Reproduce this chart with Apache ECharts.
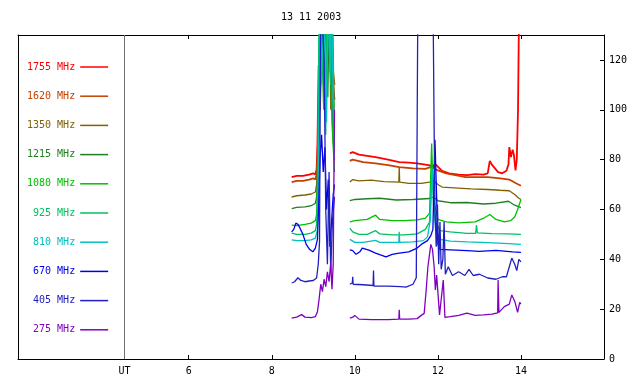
<!DOCTYPE html>
<html>
<head>
<meta charset="utf-8">
<script src="https://cdn.jsdelivr.net/npm/echarts@6/dist/echarts.min.js"></script>
<style>
  html, body { margin: 0; padding: 0; background: #fff; }
  #main { width: 640px; height: 384px; }
</style>
</head>
<body>
<div id="main"></div>
<script>
// time in UT hours, flux values; '-' marks the data gap
var f1755 = [[8.48,73],[8.6,73.5],[8.75,73.5],[8.9,74],[9.0,74.5],[9.05,74],[9.08,76],[9.1,86],[9.13,118],[9.16,100],[9.2,125],[9.24,150],[9.28,140],[9.32,150],[9.36,150],[9.4,150],[9.44,145],[9.47,112],[9.51,104],
  [9.7,'-'],
  [9.88,82.5],[9.95,83],[10.1,82],[10.3,81.5],[10.5,81],[10.8,80],[11.07,79],[11.3,78.8],[11.5,78.5],[11.7,78],[11.87,77.5],[11.95,78],[12.1,75.5],[12.27,74.5],[12.5,74],[12.7,73.8],[12.9,74.2],[13.1,74],[13.2,74.5],[13.25,79.5],[13.3,78],[13.35,77],[13.45,75],[13.55,74.5],[13.65,75.5],[13.7,78],[13.72,85],[13.76,81],[13.8,84],[13.83,82],[13.87,75.7],[13.9,80],[13.93,100],[13.96,150]];
var f1620 = [[8.48,71],[8.6,71.5],[8.75,71.5],[8.9,72],[9.0,72.5],[9.05,72],[9.08,74],[9.1,80],[9.13,95],[9.17,115],[9.2,140],[9.25,150],[9.3,135],[9.34,150],[9.38,120],[9.42,150],[9.46,118],[9.51,110],
  [9.7,'-'],
  [9.88,79.5],[9.95,80],[10.2,79],[10.5,78.5],[10.8,77.8],[11.07,77],[11.4,76.5],[11.7,76.3],[11.87,77.3],[11.95,76],[12.2,74.5],[12.67,73],[13.2,73],[13.5,72.5],[13.72,72],[13.88,70.5],[14.0,69.5]];
var f1350 = [[8.48,65],[8.6,65.5],[8.8,65.8],[8.95,66.2],[9.05,67],[9.08,70],[9.1,78],[9.14,90],[9.18,130],[9.22,150],[9.26,110],[9.3,150],[9.34,140],[9.38,150],[9.42,100],[9.46,130],[9.51,95],
  [9.7,'-'],
  [9.88,71],[9.95,72],[10.1,71.5],[10.4,71.8],[10.7,71.2],[11.06,71],[11.07,77],[11.08,71],[11.3,70.5],[11.6,70.5],[11.8,71],[11.9,71.5],[12.0,70],[12.1,69],[12.4,68.7],[12.8,68.3],[13.2,68],[13.5,67.7],[13.72,67.5],[13.85,66],[13.95,64.5],[14.0,64]];
var f1215 = [[8.48,60.3],[8.6,60.8],[8.8,61],[8.95,61.5],[9.05,62.5],[9.08,65],[9.11,75],[9.15,100],[9.19,150],[9.23,120],[9.27,150],[9.31,150],[9.35,105],[9.39,150],[9.43,130],[9.47,90],[9.51,80],
  [9.7,'-'],
  [9.88,63.5],[10.0,64],[10.3,64.3],[10.6,64.5],[11.0,63.8],[11.4,64],[11.8,64.4],[11.9,65],[12.0,63.5],[12.3,62.7],[12.7,62.8],[13.1,62.2],[13.4,62.5],[13.7,63.3],[13.85,61.7],[14.0,60.7]];
var f1080 = [[8.48,53.7],[8.6,53.5],[8.8,54],[8.95,54.5],[9.05,55.5],[9.08,58],[9.1,70],[9.13,110],[9.17,150],[9.21,150],[9.25,100],[9.29,150],[9.33,125],[9.37,150],[9.41,150],[9.45,95],[9.51,75],
  [9.7,'-'],
  [9.88,55],[10.0,55.5],[10.3,56],[10.5,57.7],[10.6,56],[10.9,55.5],[11.2,55.5],[11.5,55.8],[11.7,56.5],[11.8,58.5],[11.85,86.5],[11.88,70],[11.92,62],[12.0,56],[12.2,55],[12.5,54.6],[12.9,55],[13.1,56.5],[13.25,58],[13.4,56],[13.6,55],[13.75,55.5],[13.85,57],[13.92,60],[14.0,64]];
var f925 = [[8.48,50.5],[8.6,50],[8.8,50],[8.95,50.5],[9.05,51.5],[9.08,54],[9.11,68],[9.14,150],[9.18,150],[9.22,120],[9.26,150],[9.3,90],[9.34,150],[9.38,150],[9.42,110],[9.46,150],[9.51,85],
  [9.7,'-'],
  [9.88,52.5],[9.95,51],[10.1,50],[10.3,50],[10.5,51.5],[10.6,50.2],[10.9,49.8],[11.2,49.8],[11.5,50.2],[11.7,52],[11.8,55],[11.86,77],[11.9,62],[11.95,55],[12.05,51.5],[12.3,51],[12.7,50.4],[12.91,50.4],[12.93,53.7],[12.95,50.6],[13.3,50.3],[13.7,50.2],[14.0,50]];
var f810 = [[8.48,47.8],[8.6,47.5],[8.8,47.5],[8.95,47.8],[9.05,48.5],[9.1,52],[9.13,80],[9.16,150],[9.2,110],[9.24,150],[9.28,150],[9.32,95],[9.36,150],[9.4,115],[9.44,150],[9.48,100],[9.51,80],
  [9.7,'-'],
  [9.88,48],[10.0,46.8],[10.2,46.8],[10.5,47.6],[10.6,46.8],[10.9,46.8],[11.06,46.8],[11.07,51],[11.08,46.8],[11.4,47],[11.65,47.5],[11.75,49],[11.82,56],[11.86,76],[11.9,60],[11.95,52],[12.05,48],[12.3,47.3],[12.7,47],[13.2,46.7],[13.7,46.3],[14.0,46]];
var f670 = [[8.48,51],[8.53,52],[8.58,54.5],[8.63,54],[8.68,52.5],[8.75,50],[8.83,46],[8.91,44],[8.99,43],[9.05,44.5],[9.1,48],[9.13,62],[9.16,80],[9.2,90],[9.24,75],[9.28,85],[9.32,60],[9.36,72],[9.4,45],[9.44,55],[9.48,66],[9.51,70],
  [9.7,'-'],
  [9.88,43.8],[9.95,43.5],[10.03,42],[10.12,43],[10.18,44.5],[10.34,43.7],[10.5,42.5],[10.75,41],[10.9,42],[11.07,42.5],[11.3,43],[11.5,44.5],[11.63,46.3],[11.75,47.5],[11.83,49.5],[11.88,52],[11.93,88],[11.97,65],[12.0,46],[12.05,44],[12.3,43.8],[12.7,43.5],[13.0,43.2],[13.4,43.6],[13.8,43],[14.0,42.8]];
var f405 = [[8.48,30.5],[8.55,31],[8.63,32.6],[8.7,31.5],[8.8,31],[8.9,31.3],[9.0,31.5],[9.08,32.5],[9.12,38],[9.15,47],[9.18,150],[9.22,150],[9.26,120],[9.3,60],[9.34,38],[9.38,75],[9.42,35],[9.46,55],[9.51,65],
  [9.7,'-'],
  [9.88,30],[9.94,30.5],[9.95,33],[9.96,30],[10.2,29.8],[10.44,29.5],[10.45,35.5],[10.46,29.3],[10.8,29.2],[11.1,29],[11.23,28.8],[11.4,30],[11.48,32.6],[11.52,150],[11.88,150],[11.91,92],[11.93,60],[11.96,45],[11.99,62],[12.02,38],[12.05,55],[12.08,36],[12.12,40],[12.15,55],[12.18,34],[12.25,37],[12.35,33.5],[12.5,35],[12.65,33.5],[12.75,36],[12.85,33.5],[13.0,34],[13.2,32.5],[13.4,32],[13.55,33],[13.65,33],[13.72,37],[13.78,40.5],[13.85,38],[13.9,35.5],[13.95,40],[14.0,39]];
var f275 = [[8.48,16.4],[8.6,16.8],[8.72,17.8],[8.8,16.8],[8.95,16.6],[9.05,17],[9.1,19],[9.14,24],[9.18,30],[9.22,27],[9.26,32],[9.3,29],[9.34,35],[9.38,31],[9.42,38.5],[9.45,28],[9.48,38],[9.51,100],
  [9.7,'-'],
  [9.88,16.4],[9.95,16.8],[10.0,17.5],[10.1,16],[10.4,15.8],[10.8,15.8],[11.06,16],[11.07,19.7],[11.08,16],[11.3,16],[11.5,16.2],[11.6,17.5],[11.67,18.3],[11.72,28],[11.76,37],[11.83,46],[11.87,44],[11.91,37],[11.94,27.7],[11.97,33.7],[12.04,17.7],[12.13,31.7],[12.17,16.7],[12.3,17],[12.5,17.5],[12.7,18.4],[12.9,17.5],[13.1,17.7],[13.3,18],[13.44,18.5],[13.45,31.7],[13.47,18.7],[13.6,21],[13.72,22],[13.78,25.7],[13.85,23.2],[13.92,18.7],[13.97,22.7],[14.0,22]];

var names = ['1755 MHz','1620 MHz','1350 MHz','1215 MHz','1080 MHz','925 MHz','810 MHz','670 MHz','405 MHz','275 MHz'];
var colors = ['#ff0000','#c84000','#806000','#208020','#00c000','#00c060','#00c0c0','#0000f0','#2020c0','#8000c0'];
var values = [f1755, f1620, f1350, f1215, f1080, f925, f810, f670, f405, f275];

var xTicks = [6, 8, 10, 12, 14];
var yTicks = [0, 20, 40, 60, 80, 100, 120];
var utPos = 4.455;

var font = 'DejaVu Sans Mono';

var series = [];
for (var i = 0; i < names.length; i++) {
  var s = {
    name: names[i],
    type: 'line',
    data: values[i],
    color: colors[i],
    showSymbol: false,
    symbol: 'none',
    clip: true,
    lineStyle: { color: colors[i], width: i < 2 ? 1.8 : 1.3 },
    emphasis: { disabled: true }
  };
  if (i == 0) {
    s.markLine = {
      silent: true,
      symbol: 'none',
      label: { show: false },
      lineStyle: { color: '#707070', width: 1, type: 'solid' },
      data: [{ xAxis: utPos }]
    };
  }
  series.push(s);
}

var legendData = [];
for (var j = 0; j < names.length; j++) {
  legendData.push({ name: names[j], textStyle: { color: colors[j] } });
}

var myChart = echarts.init(document.getElementById('main'));
var option = {
  animation: false,
  backgroundColor: '#ffffff',
  title: {
    text: '13 11 2003',
    left: 281,
    top: 12,
    padding: 0,
    textStyle: { fontFamily: font, fontSize: 10, fontWeight: 'normal', color: '#000' }
  },
  legend: {
    orient: 'vertical',
    left: 27,
    top: 61,
    padding: 0,
    align: 'right',
    icon: 'rect',
    itemWidth: 28,
    itemHeight: 1.5,
    itemGap: 17.2,
    selectedMode: false,
    formatter: function (n) { return n.padStart(8, ' '); },
    textStyle: { fontFamily: font, fontSize: 10, lineHeight: 12 },
    data: legendData
  },
  grid: { left: 18, right: 36, top: 35, bottom: 25, containLabel: false },
  xAxis: [{
    type: 'value',
    min: 1.89,
    max: 16,
    position: 'bottom',
    axisLine: { show: true, onZero: false, lineStyle: { color: '#000', width: 1 } },
    axisTick: { show: true, inside: true, length: 4, customValues: xTicks, lineStyle: { color: '#000' } },
    axisLabel: {
      customValues: [utPos].concat(xTicks),
      formatter: function (v) { return v < 5 ? 'UT' : String(v); },
      fontFamily: font, fontSize: 10, color: '#000', margin: 7
    },
    splitLine: { show: false }
  }, {
    type: 'value',
    min: 1.89,
    max: 16,
    position: 'top',
    axisLine: { show: true, onZero: false, lineStyle: { color: '#000', width: 1 } },
    axisTick: { show: true, inside: true, length: 4, customValues: xTicks, lineStyle: { color: '#000' } },
    axisLabel: { show: false },
    splitLine: { show: false }
  }],
  yAxis: [{
    type: 'value',
    min: 0,
    max: 130,
    position: 'right',
    axisLine: { show: true, onZero: false, lineStyle: { color: '#000', width: 1 } },
    axisTick: { show: true, inside: true, length: 4, customValues: yTicks, lineStyle: { color: '#000' } },
    axisLabel: { customValues: yTicks, fontFamily: font, fontSize: 10, color: '#000', margin: 5 },
    splitLine: { show: false }
  }, {
    type: 'value',
    min: 0,
    max: 130,
    position: 'left',
    axisLine: { show: true, onZero: false, lineStyle: { color: '#000', width: 1 } },
    axisTick: { show: false },
    axisLabel: { show: false },
    splitLine: { show: false }
  }],
  series: series
};
myChart.setOption(option);
</script>
</body>
</html>
